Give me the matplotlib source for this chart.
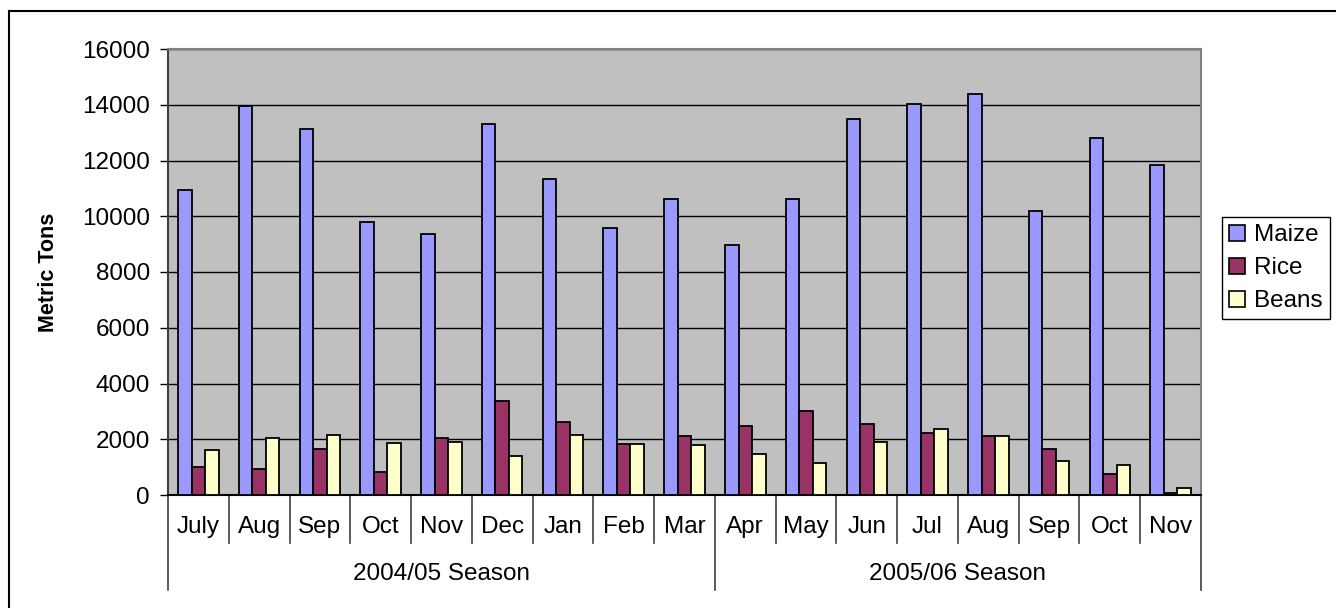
import numpy as np
import matplotlib
matplotlib.use("Agg")
import matplotlib.pyplot as plt
import matplotlib.transforms as mtransforms
from matplotlib.lines import Line2D
from matplotlib.patches import Patch

plt.rcParams['font.family'] = ['Liberation Sans', 'DejaVu Sans']

# data
months = ["July", "Aug", "Sep", "Oct", "Nov", "Dec", "Jan", "Feb", "Mar",
          "Apr", "May", "Jun", "Jul", "Aug", "Sep", "Oct", "Nov"]
seasons = ["2004/05 Season", "2005/06 Season"]
season_lengths = [9, 8]
maize = [10950, 13950, 13130, 9800, 9350, 13310, 11340, 9590, 10620,
         8960, 10620, 13500, 14010, 14400, 10180, 12810, 11840]
rice = [1010, 950, 1660, 830, 2050, 3390, 2620, 1840, 2100,
        2490, 3000, 2550, 2220, 2100, 1660, 770, 70]
beans = [1600, 2050, 2170, 1850, 1900, 1400, 2170, 1840, 1790,
         1460, 1150, 1900, 2370, 2100, 1210, 1080, 250]

series_names = ["Maize", "Rice", "Beans"]
colors = ["#9999FF", "#993366", "#FFFFCC"]

W, H = 1336, 608
fs = 17.5
fig = plt.figure(figsize=(W / 100, H / 100), dpi=100)
ax = fig.add_axes([168 / W, (H - 495) / H, (1201 - 168) / W, (495 - 49) / H])
ax.set_facecolor("#C0C0C0")

x = np.arange(len(months))
bw = 1 / 4.5
for i, (vals, c) in enumerate(zip([maize, rice, beans], colors)):
    ax.bar(x + (i - 1) * bw, vals, width=bw, color=c, edgecolor="black",
           linewidth=1.3, zorder=3)

ax.set_xlim(-0.5, len(months) - 0.5)
ax.set_ylim(0, 16000)
ax.set_yticks(np.arange(0, 16001, 2000))
ax.yaxis.grid(True, color="black", linewidth=1)
ax.set_axisbelow(True)
ax.tick_params(axis="y", direction="out", length=6, width=1, labelsize=fs, pad=7)
ax.set_xticks([])

ax.spines["top"].set_color("#808080")
ax.spines["right"].set_color("#808080")
ax.spines["right"].set_linewidth(1.5)
ax.spines["top"].set_linewidth(1.5)
ax.spines["left"].set_color("#404040")
ax.spines["left"].set_linewidth(1.5)
ax.spines["bottom"].set_color("black")
ax.spines["bottom"].set_linewidth(1.5)

fig.text(49 / W, (H - 272) / H, "Metric Tons", rotation=90, ha="center",
         va="center", fontsize=15.5, fontweight="bold")

# two-level category axis
trans = mtransforms.blended_transform_factory(ax.transData, fig.transFigure)
y_axis = (H - 495) / H
y_month = (H - 543) / H
y_season = (H - 590) / H
season_edges = np.concatenate([[0], np.cumsum(season_lengths)]) - 0.5
for b in np.arange(len(months) + 1) - 0.5:
    bottom = y_season if b in season_edges else y_month
    ax.add_line(Line2D([b, b], [y_axis, bottom], transform=trans, color="#404040",
                       linewidth=1.2, clip_on=False))
for xi, m in zip(x, months):
    ax.text(xi, (H - 527) / H, m, transform=trans, ha="center", va="center",
            fontsize=fs)
for s, a, b in zip(seasons, season_edges[:-1], season_edges[1:]):
    ax.text((a + b) / 2, (H - 574) / H, s, transform=trans, ha="center",
            va="center", fontsize=fs)

handles = [Patch(facecolor=c, edgecolor="black", linewidth=1.2) for c in colors]
leg = fig.legend(handles, series_names, loc="upper left",
                 bbox_to_anchor=(1222 / W, (H - 217) / H), fontsize=fs,
                 frameon=True, fancybox=False, edgecolor="black", framealpha=1,
                 handlelength=0.65, handleheight=0.65, handletextpad=0.35,
                 labelspacing=0.45, borderpad=0.3, borderaxespad=0)
leg.get_frame().set_linewidth(1)

# outer chart frame (only top and left visible)
fig.add_artist(Line2D([9 / W, 9 / W], [0, (H - 11) / H], transform=fig.transFigure,
                      color="black", linewidth=1.5))
fig.add_artist(Line2D([9 / W, 1], [(H - 11) / H, (H - 11) / H],
                      transform=fig.transFigure, color="black", linewidth=1.5))

fig.savefig("out.png", dpi=100)
